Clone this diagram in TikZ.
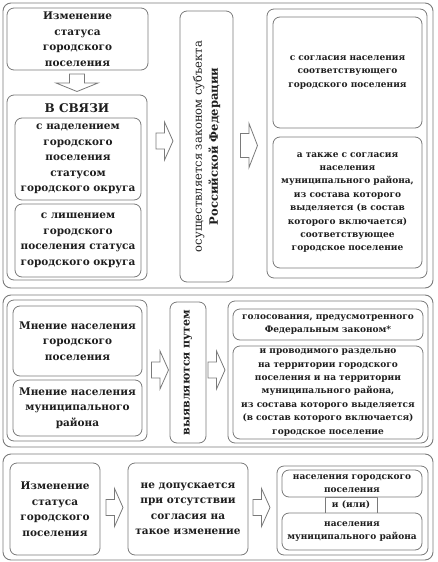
\documentclass[tikz,border=0pt]{standalone}
\usepackage{fontspec}
\setmainfont{DejaVu Serif}
\definecolor{ln}{HTML}{7A7A7A}
\definecolor{tx}{HTML}{1E1E1E}
\tikzset{
  frame/.style={draw=ln, line width=0.9pt, rounded corners=8pt},
  box/.style={draw=ln, line width=0.8pt, rounded corners=7pt, fill=white, align=center, inner sep=1pt, text=tx},
  big/.style={font=\bfseries\fontsize{10.5}{15.5}\selectfont},
  small/.style={font=\bfseries\fontsize{9}{13.4}\selectfont},
  arrline/.style={draw=ln, line width=0.8pt, fill=white, line join=miter},
  rarrow/.pic={\path[arrline] (-8.5,-8) -- (0,-8) -- (0,-19) -- (8.5,0) -- (0,19) -- (0,8) -- (-8.5,8) -- cycle;},
  rarrowL/.pic={\path[arrline] (-8.5,-12) -- (0,-12) -- (0,-22) -- (8.5,0) -- (0,22) -- (0,12) -- (-8.5,12) -- cycle;},
  darrow/.pic={\path[arrline] (-7.5,-9) -- (7.5,-9) -- (7.5,0) -- (21,0) -- (0,8.5) -- (-21,0) -- (-7.5,0) -- cycle;},
}
\begin{document}
\begin{tikzpicture}[x=1pt,y=-1pt]
\useasboundingbox (0,0) rectangle (437,562);
% ---------- section 1 ----------
\node[frame, minimum width=430, minimum height=285] (s1) at (218,145.5) {};
\node[box, big, minimum width=141, minimum height=62] (a) at (77.5,39) {Изменение\\статуса\\городского\\поселения};
\node[box, minimum width=140, minimum height=185] (b) at (77,187.5) {};
\node[text=tx, font=\bfseries\fontsize{12}{14}\selectfont] (bt) at (77,108) {В СВЯЗИ};
\node[box, big, minimum width=126, minimum height=82] (b1) at (78,159) {с наделением\\городского\\поселения\\статусом\\городского округа};
\node[box, big, minimum width=126, minimum height=73] (b2) at (78,240.5) {с лишением\\городского\\поселения статуса\\городского округа};
\pic (ar0) at (77,83) {darrow};
\pic (ar1) at (164.5,141) {rarrow};
\node[box, minimum width=53, minimum height=271] (v) at (206.5,146.5) {};
\node[rotate=90, align=center, text=tx, font=\fontsize{11.5}{16}\selectfont] (vt) at (v.center) {осуществляется законом субъекта\\\textbf{Российской Федерации}};
\pic (ar2) at (249,145.5) {rarrowL};
\node[box, minimum width=160, minimum height=269] (r) at (347,143.5) {};
\node[box, small, minimum width=149, minimum height=111] (r1) at (347.5,72.5) {с согласия населения\\соответствующего\\городского поселения};
\node[box, small, minimum width=149, minimum height=131] (r2) at (347.5,202.5) {а также с согласия\\населения\\муниципального района,\\из состава которого\\выделяется (в состав\\которого включается)\\соответствующее\\городское поселение};
% ---------- section 2 ----------
\node[frame, minimum width=430, minimum height=152] (s2) at (218,371) {};
\node[box, minimum width=140, minimum height=141] (l) at (77,370.5) {};
\node[box, big, minimum width=129, minimum height=70] (l1) at (77.5,341) {Мнение населения\\городского\\поселения};
\node[box, big, minimum width=129, minimum height=56] (l2) at (77.5,408) {Мнение населения\\муниципального\\района};
\pic (ar3) at (160,370) {rarrow};
\node[box, minimum width=36, minimum height=141] (v2) at (188,372.5) {};
\node[rotate=90, text=tx, font=\bfseries\fontsize{11}{13}\selectfont] (v2t) at (v2.center) {выявляются путем};
\pic (ar4) at (216.5,370) {rarrow};
\node[box, minimum width=200, minimum height=142] (q) at (328,372) {};
\node[box, small, minimum width=190, minimum height=31] (q1) at (328,324.5) {голосования, предусмотренного\\Федеральным законом*};
\node[box, small, minimum width=190, minimum height=93] (q2) at (328,392.5) {и проводимого раздельно\\на территории городского\\поселения и на территории\\муниципального района,\\из состава которого выделяется\\(в состав которого включается)\\городское поселение};
% ---------- section 3 ----------
\node[frame, minimum width=430, minimum height=106] (s3) at (218,507) {};
\node[box, big, minimum width=90, minimum height=92] (c1) at (55,509) {Изменение\\статуса\\городского\\поселения};
\pic (ar5) at (114.5,507.5) {rarrow};
\node[box, big, minimum width=120, minimum height=92] (c2) at (188,509) {не допускается\\при отсутствии\\согласия на\\такое изменение};
\pic (ar6) at (261.5,507.5) {rarrow};
\node[box, minimum width=151, minimum height=89] (c) at (352.5,510.5) {};
\node[box, small, minimum width=52, minimum height=16, rounded corners=0pt] (ili) at (351,505) {и (или)};
\node[box, small, minimum width=140, minimum height=27] (c3a) at (352,483.5) {населения городского\\поселения};
\node[box, small, minimum width=140, minimum height=37] (c3b) at (352,531.5) {населения\\муниципального района};
\end{tikzpicture}
\end{document}
